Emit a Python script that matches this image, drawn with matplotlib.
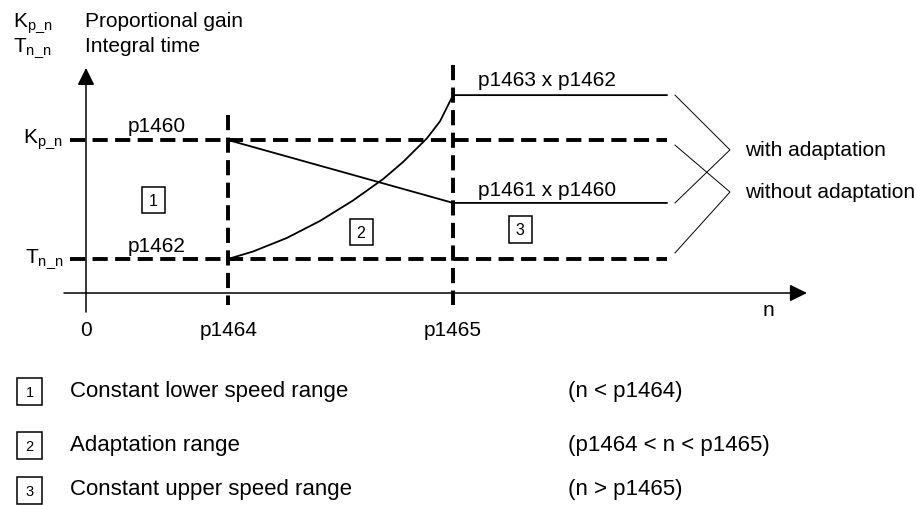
import matplotlib
matplotlib.use("Agg")
import matplotlib.pyplot as plt
from matplotlib.patches import Rectangle

plt.rcParams['font.family'] = ['Liberation Sans', 'DejaVu Sans']
plt.rcParams['mathtext.fontset'] = 'custom'
plt.rcParams['mathtext.rm'] = 'Liberation Sans'
plt.rcParams['mathtext.it'] = 'Liberation Sans:italic'

# ---- schematic values (speed n in units of p1464, gain/time levels) ----
n_zero = 0.0
n_p1464 = 1.0
n_p1465 = 2.585
n_line_start = -0.113
n_line_end = 4.09
Kp_n = 4.5            # p1460
Tn_n = 1.0            # p1462
Kp_upper = 2.65       # p1461 x p1460
Tn_upper = 5.82       # p1463 x p1462

# Tn adaptation curve
curve_n = [1.0, 1.176, 1.415, 1.648, 1.880, 2.092, 2.232, 2.401, 2.493, 2.585]
curve_v = [1.0, 1.22, 1.62, 2.12, 2.72, 3.35, 3.85, 4.55, 5.05, 5.82]

tick_labels = ["0", "p1464", "p1465"]
legend_nums = ["1", "2", "3"]
legend_text = ["Constant lower speed range", "Adaptation range", "Constant upper speed range"]
legend_cond = ["(n < p1464)", "(p1464 < n < p1465)", "(n > p1465)"]

W, H = 917, 505
fig = plt.figure(figsize=(W / 100, H / 100), dpi=100)
ax = fig.add_axes([0, 0, 1, 1])
ax.set_xlim(-86 / 142, (W - 86) / 142)
ax.set_ylim((293 - H) / 34, 293 / 34)
ax.axis('off')

ov = fig.add_axes([0, 0, 1, 1], zorder=5)
ov.set_xlim(0, W)
ov.set_ylim(H, 0)
ov.axis('off')
ov.patch.set_alpha(0)

k = 'black'
dash = (0, (3.9, 1.9))
lw_d = 2.8

# axes with arrows
ax.annotate('', xy=(n_zero, 6.62), xytext=(n_zero, -0.56),
            arrowprops=dict(arrowstyle='-|>,head_length=1.05,head_width=0.52',
                            mutation_scale=10, lw=1.1, color=k, shrinkA=0, shrinkB=0))
ax.annotate('', xy=(5.077, 0), xytext=(-0.155, 0),
            arrowprops=dict(arrowstyle='-|>,head_length=1.05,head_width=0.52',
                            mutation_scale=10, lw=1.1, color=k, shrinkA=0, shrinkB=0))

# dashed levels without adaptation
ax.plot([n_line_start, n_line_end], [Kp_n, Kp_n], color=k, lw=lw_d, linestyle=dash, dash_capstyle='butt')
ax.plot([n_line_start, n_line_end], [Tn_n, Tn_n], color=k, lw=lw_d, linestyle=dash, dash_capstyle='butt')
# vertical dashed at p1464, p1465
ax.plot([n_p1464, n_p1464], [5.24, -0.35], color=k, lw=lw_d, linestyle=dash, dash_capstyle='butt')
ax.plot([n_p1465, n_p1465], [6.7, -0.35], color=k, lw=lw_d, linestyle=dash, dash_capstyle='butt')

# adaptation curves
ax.plot([n_p1464, n_p1465, n_line_end], [Kp_n, Kp_upper, Kp_upper], color=k, lw=1.3)
ax.plot(curve_n + [n_line_end], curve_v + [Tn_upper], color=k, lw=1.3)

# brackets
bx0, bx1 = 4.148, 4.535
ax.plot([bx0, bx1, bx0], [5.82, 4.21, 2.65], color=k, lw=0.7)
ax.plot([bx0, bx1, bx0], [4.35, 2.97, 1.18], color=k, lw=0.7)

fs = 15
fs_leg = 16
# labels on the diagram
ov.text(157, 127, "p1460", fontsize=fs, ha='center', va='center')
ov.text(157, 246, "p1462", fontsize=fs, ha='center', va='center')
ov.text(478, 80, "p1463 x p1462", fontsize=fs, ha='left', va='center')
ov.text(478, 191, "p1461 x p1460", fontsize=fs, ha='left', va='center')
ov.text(745, 150, "with adaptation", fontsize=fs, ha='left', va='center')
ov.text(745, 192, "without adaptation", fontsize=fs, ha='left', va='center')
ov.text(63, 143, r"K$_{\mathregular{p\_n}}$", fontsize=fs, ha='right', va='baseline')
ov.text(63, 263, r"T$_{\mathregular{n\_n}}$", fontsize=fs, ha='right', va='baseline')
for xp, lab in zip([86, 229, 453], tick_labels):
    ov.text(xp, 330, lab, fontsize=fs, ha='center', va='center')
ov.text(768, 310, "n", fontsize=fs, ha='center', va='center')

# header
ov.text(13, 27, r"K$_{\mathregular{p\_n}}$", fontsize=fs, ha='left', va='baseline')
ov.text(85, 27, "Proportional gain", fontsize=fs, ha='left', va='baseline')
ov.text(13, 52, r"T$_{\mathregular{n\_n}}$", fontsize=fs, ha='left', va='baseline')
ov.text(85, 52, "Integral time", fontsize=fs, ha='left', va='baseline')


def box(xc, yc, w, h, label, size):
    ov.add_patch(Rectangle((xc - w / 2, yc - h / 2), w, h, fill=True, fc='white', ec=k, lw=1.1))
    ov.text(xc, yc + size * 0.11, label, fontsize=size, ha='center', va='center')


box(153, 200, 23, 26, legend_nums[0], 11.5)
box(361, 232, 23, 26, legend_nums[1], 11.5)
box(520, 229, 23, 27, legend_nums[2], 11.5)

# legend
rows_y = [391, 445, 490]
for yy, num, txt, cond in zip(rows_y, legend_nums, legend_text, legend_cond):
    box(29.5, yy + 0.5, 25, 27, num, 10.5)
    ov.text(70, yy, txt, fontsize=fs_leg, ha='left', va='center')
    ov.text(568, yy, cond, fontsize=fs_leg, ha='left', va='center')

fig.savefig("out.png", dpi=100)
